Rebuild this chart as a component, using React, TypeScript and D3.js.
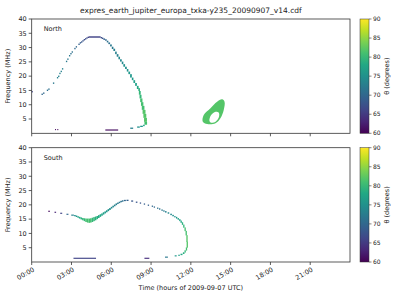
import React from 'react';
import * as d3 from 'd3';

const titleText = 'expres_earth_jupiter_europa_txka-y235_20090907_v14.cdf';
const xLabelText = 'Time (hours of 2009-09-07 UTC)';
const yLabelText = 'Frequency (MHz)';
const cbLabelText = 'θ (degrees)';
const hourTicks = [0, 3, 6, 9, 12, 15, 18, 21];
const hourLabels = ['00:00', '03:00', '06:00', '09:00', '12:00', '15:00', '18:00', '21:00'];
const freqTicks = [5, 10, 15, 20, 25, 30, 35, 40];
const thetaTicks = [60, 65, 70, 75, 80, 85, 90];

// cells: [start hour, duration hours, f low MHz, f high MHz, theta deg]
type Cell = [number, number, number, number, number];

const northCells: Cell[] = [
  [0.0, 0.08, 14.3, 14.8, 66],
  [0.74, 0.1, 13.4, 13.9, 70], [0.86, 0.1, 13.8, 14.3, 70],
  [1.14, 0.1, 14.8, 15.3, 71], [1.25, 0.1, 15.2, 15.7, 71],
  [1.6, 0.1, 17.3, 17.8, 72], [1.9, 0.1, 19.2, 19.7, 73],
  [1.99, 0.1, 19.7, 20.2, 73], [2.08, 0.1, 20.7, 21.2, 73],
  [2.18, 0.1, 21.4, 21.9, 73], [2.28, 0.1, 22.3, 22.8, 73],
  [2.58, 0.1, 24.9, 25.4, 72], [2.68, 0.1, 25.7, 26.2, 72],
  [2.81, 0.1, 26.9, 27.4, 72], [2.91, 0.1, 27.6, 28.1, 71],
  [3.01, 0.1, 28.2, 28.7, 71], [3.21, 0.1, 29.4, 29.9, 70],
  [3.32, 0.1, 30.0, 30.5, 70], [3.52, 0.1, 30.9, 31.4, 69],
  [3.62, 0.1, 31.4, 31.9, 69], [3.72, 0.1, 31.7, 32.2, 68],
  [3.82, 0.1, 32.1, 32.6, 68], [3.92, 0.1, 32.5, 33.0, 67],
  [4.02, 0.1, 32.8, 33.3, 67], [4.12, 0.1, 33.1, 33.6, 67],
  [4.22, 0.1, 33.35, 33.85, 66], [4.32, 0.88, 33.45, 33.95, 66],
  [5.2, 0.1, 33.2, 33.7, 67], [5.3, 0.1, 33.0, 33.5, 68],
  [5.4, 0.13, 32.7, 33.2, 69], [5.53, 0.13, 32.4, 32.9, 70],
  [5.66, 0.12, 31.8, 32.4, 71], [5.78, 0.13, 31.2, 31.8, 71],
  [5.91, 0.13, 30.4, 31.1, 72], [6.04, 0.12, 29.5, 30.3, 72],
  [6.16, 0.13, 28.8, 29.6, 73], [6.29, 0.12, 27.7, 28.6, 73],
  [6.41, 0.13, 26.8, 27.7, 73], [6.54, 0.12, 25.9, 26.8, 74],
  [6.66, 0.13, 25.1, 25.9, 74], [6.79, 0.12, 24.2, 25.1, 74],
  [6.91, 0.13, 23.3, 24.2, 75], [7.04, 0.13, 22.5, 23.3, 75],
  [7.17, 0.12, 21.6, 22.5, 75], [7.29, 0.13, 20.7, 21.6, 76],
  [7.42, 0.13, 19.5, 20.7, 76], [7.55, 0.12, 18.6, 19.5, 76],
  [7.67, 0.13, 17.6, 18.6, 77], [7.8, 0.13, 16.6, 17.6, 77],
  [7.93, 0.13, 15.5, 16.6, 78],
  [8.04, 0.12, 14.8, 15.8, 79], [8.08, 0.14, 13.5, 14.8, 80],
  [8.13, 0.15, 12.2, 13.5, 80], [8.18, 0.17, 10.9, 12.2, 81],
  [8.24, 0.18, 9.6, 10.9, 81], [8.3, 0.2, 8.2, 9.6, 81],
  [8.36, 0.22, 6.8, 8.2, 82], [8.42, 0.22, 5.4, 6.8, 82],
  [8.47, 0.22, 4.0, 5.4, 82], [8.5, 0.2, 3.0, 4.0, 81],
  [8.4, 0.12, 2.5, 3.0, 78], [8.18, 0.2, 2.2, 2.65, 76],
  [7.95, 0.2, 1.95, 2.4, 75], [7.43, 0.22, 1.55, 2.0, 73],
  [5.55, 0.97, 0.95, 1.35, 61],
  [1.76, 0.07, 1.1, 1.5, 61], [1.93, 0.07, 1.1, 1.5, 61],
];

// closed emission region [hour, MHz]
const northBlobOuter: [number, number][] = [
  [12.97, 6.4], [13.48, 8.75], [13.98, 11.06], [14.36, 11.9], [14.54, 11.06],
  [14.48, 8.15], [14.23, 5.25], [13.86, 3.5], [13.23, 3.25], [12.9, 4.06],
];
const northBlobInner: [number, number][] = [
  [13.4, 4.4], [13.53, 6.4], [13.86, 7.56], [14.11, 7.2], [14.11, 5.6],
  [13.86, 4.06], [13.53, 3.7],
];
const northBlobTheta = 82;

const southCells: Cell[] = [
  [1.25, 0.12, 17.55, 17.95, 61], [1.72, 0.12, 17.2, 17.6, 63],
  [2.15, 0.15, 16.85, 17.25, 66], [2.62, 0.15, 16.5, 16.9, 70],
  [2.98, 0.2, 16.2, 16.6, 73],
  [3.2, 0.12, 16.0, 16.45, 75], [3.32, 0.12, 15.75, 16.25, 76],
  [3.44, 0.12, 15.5, 16.0, 77], [3.56, 0.12, 15.2, 15.8, 78],
  [3.68, 0.12, 14.9, 15.6, 79], [3.8, 0.12, 14.6, 15.4, 80],
  [3.92, 0.12, 14.3, 15.3, 80], [4.04, 0.12, 14.0, 15.2, 81],
  [4.16, 0.12, 13.8, 15.2, 81], [4.28, 0.12, 13.7, 15.2, 81],
  [4.4, 0.12, 13.8, 15.3, 81], [4.52, 0.12, 14.0, 15.5, 80],
  [4.64, 0.12, 14.3, 15.7, 80], [4.76, 0.12, 14.6, 15.9, 79],
  [4.88, 0.12, 15.0, 16.1, 79], [5.0, 0.12, 15.4, 16.4, 78],
  [5.12, 0.12, 15.8, 16.7, 78], [5.24, 0.12, 16.2, 17.0, 77],
  [5.36, 0.12, 16.6, 17.4, 77], [5.48, 0.12, 17.0, 17.7, 76],
  [5.6, 0.12, 17.4, 18.1, 76], [5.72, 0.12, 17.8, 18.5, 75],
  [5.84, 0.12, 18.2, 18.9, 75], [5.96, 0.12, 18.7, 19.3, 74],
  [6.08, 0.12, 19.1, 19.7, 74], [6.2, 0.12, 19.5, 20.1, 73],
  [6.32, 0.12, 19.9, 20.5, 73], [6.44, 0.12, 20.3, 20.8, 72],
  [6.56, 0.12, 20.6, 21.1, 72], [6.68, 0.12, 20.9, 21.4, 71],
  [6.8, 0.12, 21.1, 21.6, 71], [6.95, 0.15, 21.3, 21.75, 70],
  [7.15, 0.15, 21.35, 21.8, 69],
  [7.5, 0.15, 21.1, 21.55, 68], [7.85, 0.12, 20.7, 21.15, 68],
  [8.15, 0.1, 20.4, 20.85, 68], [8.45, 0.1, 20.05, 20.5, 69],
  [8.75, 0.1, 19.65, 20.1, 69], [9.05, 0.1, 19.3, 19.75, 70],
  [9.2, 0.1, 19.0, 19.45, 70], [9.45, 0.1, 18.6, 19.05, 71],
  [9.6, 0.1, 18.3, 18.8, 71], [9.78, 0.1, 17.9, 18.4, 72],
  [9.92, 0.1, 17.6, 18.1, 72], [10.05, 0.12, 17.3, 17.8, 73],
  [10.25, 0.12, 16.9, 17.4, 74], [10.45, 0.12, 16.4, 16.9, 74],
  [10.6, 0.12, 16.0, 16.5, 75], [10.75, 0.1, 15.6, 16.1, 75],
  [10.88, 0.1, 15.2, 15.8, 76], [11.0, 0.1, 14.8, 15.4, 77],
  [11.12, 0.1, 14.3, 15.0, 77], [11.22, 0.1, 13.7, 14.5, 78],
  [11.32, 0.1, 13.0, 13.9, 79], [11.42, 0.1, 12.0, 13.1, 80],
  [11.52, 0.1, 10.8, 12.1, 81], [11.6, 0.1, 9.3, 10.9, 81],
  [11.66, 0.1, 7.0, 9.4, 82], [11.68, 0.1, 5.0, 7.1, 82],
  [11.62, 0.1, 4.0, 5.1, 81], [11.52, 0.1, 3.3, 4.1, 80],
  [11.4, 0.12, 2.8, 3.4, 79], [11.22, 0.15, 2.4, 2.9, 78],
  [11.05, 0.12, 2.15, 2.55, 77], [10.78, 0.15, 1.95, 2.35, 76],
  [10.05, 0.22, 1.5, 1.9, 72],
  [8.5, 0.37, 1.1, 1.5, 64],
  [3.15, 1.7, 1.1, 1.5, 66],
];

const FONT = 'DejaVu Sans';
const W = 400;
const H = 300;
const left = 31.7;
const right = 350;
const x = d3.scaleLinear().domain([0, 24]).range([left, right]);
const yTop = d3.scaleLinear().domain([0, 40]).range([133.3, 19]);
const yBot = d3.scaleLinear().domain([0, 40]).range([262, 147.7]);
const thetaColor = (t: number) => d3.interpolateViridis((t - 60) / 30);

function Panel({ y, cells, name, showXLabels, cbId }: {
  y: d3.ScaleLinear<number, number>;
  cells: Cell[];
  name: string;
  showXLabels: boolean;
  cbId: string;
}) {
  const [y0, y1] = y.range();
  const cbX = 360;
  const cbW = 9;
  const cbScale = d3.scaleLinear().domain([60, 90]).range([y0, y1]);
  const midY = (y0 + y1) / 2;
  return (
    <g>
      {cells.map((c, i) => (
        <rect
          key={i}
          x={x(c[0])}
          y={y(c[3])}
          width={Math.max(1, x(c[0] + c[1]) - x(c[0]))}
          height={Math.max(1, y(c[2]) - y(c[3]))}
          fill={thetaColor(c[4])}
        />
      ))}
      <rect x={left} y={y1} width={right - left} height={y0 - y1} fill="none" stroke="#333" strokeWidth={0.8} />
      {freqTicks.map((f) => (
        <g key={f}>
          <line x1={left - 3} x2={left} y1={y(f)} y2={y(f)} stroke="#333" strokeWidth={0.8} />
          <text x={left - 5} y={y(f)} dy="0.35em" textAnchor="end" fontSize={6.5} fontFamily={FONT} fill="#222">{f}</text>
        </g>
      ))}
      {hourTicks.map((h, i) => (
        <g key={h}>
          <line x1={x(h)} x2={x(h)} y1={y0} y2={y0 + 3} stroke="#333" strokeWidth={0.8} />
          {showXLabels && (
            <text
              transform={`translate(${x(h) + 1.5},${y0 + 6}) rotate(-30)`}
              textAnchor="end"
              dy="0.5em"
              fontSize={6.5}
              fontFamily={FONT}
              fill="#222"
            >{hourLabels[i]}</text>
          )}
        </g>
      ))}
      <text x={x(0) + 12} y={y1 + 12} fontSize={6.5} fontFamily={FONT} fill="#222">{name}</text>
      <text transform={`translate(10,${midY}) rotate(-90)`} textAnchor="middle" fontSize={6.5} fontFamily={FONT} fill="#222">{yLabelText}</text>
      <rect x={cbX} y={y1} width={cbW} height={y0 - y1} fill={`url(#${cbId})`} />
      <rect x={cbX} y={y1} width={cbW} height={y0 - y1} fill="none" stroke="#333" strokeWidth={0.5} />
      {thetaTicks.map((t) => (
        <g key={t}>
          <line x1={cbX + cbW} x2={cbX + cbW + 2.5} y1={cbScale(t)} y2={cbScale(t)} stroke="#333" strokeWidth={0.6} />
          <text x={cbX + cbW + 4} y={cbScale(t)} dy="0.35em" fontSize={6} fontFamily={FONT} fill="#222">{t}</text>
        </g>
      ))}
      <text transform={`translate(389,${midY}) rotate(-90)`} textAnchor="middle" fontSize={6.5} fontFamily={FONT} fill="#222">{cbLabelText}</text>
    </g>
  );
}

export default function App() {
  const line = d3.line<[number, number]>().x((d) => x(d[0])).y((d) => yTop(d[1])).curve(d3.curveCatmullRomClosed);
  const stops = d3.range(0, 1.0001, 0.1);
  return (
    <svg width={W} height={H} style={{ position: 'absolute', left: 0, top: 0, background: '#fff' }}>
      <defs>
        {['cbTop', 'cbBot'].map((id) => (
          <linearGradient key={id} id={id} x1="0" y1="1" x2="0" y2="0">
            {stops.map((s) => (
              <stop key={s} offset={s} stopColor={d3.interpolateViridis(s)} />
            ))}
          </linearGradient>
        ))}
      </defs>
      <rect width={W} height={H} fill="#fff" />
      <text x={(left + right) / 2} y={13} textAnchor="middle" fontSize={7.5} fontFamily={FONT} fill="#222">{titleText}</text>
      <path
        d={(line(northBlobOuter) || '') + (line(northBlobInner) || '')}
        fill={thetaColor(northBlobTheta)}
        fillRule="evenodd"
      />
      <Panel y={yTop} cells={northCells} name="North" showXLabels={false} cbId="cbTop" />
      <Panel y={yBot} cells={southCells} name="South" showXLabels={true} cbId="cbBot" />
      <text x={(left + right) / 2} y={290} textAnchor="middle" fontSize={6.5} fontFamily={FONT} fill="#222">{xLabelText}</text>
    </svg>
  );
}
